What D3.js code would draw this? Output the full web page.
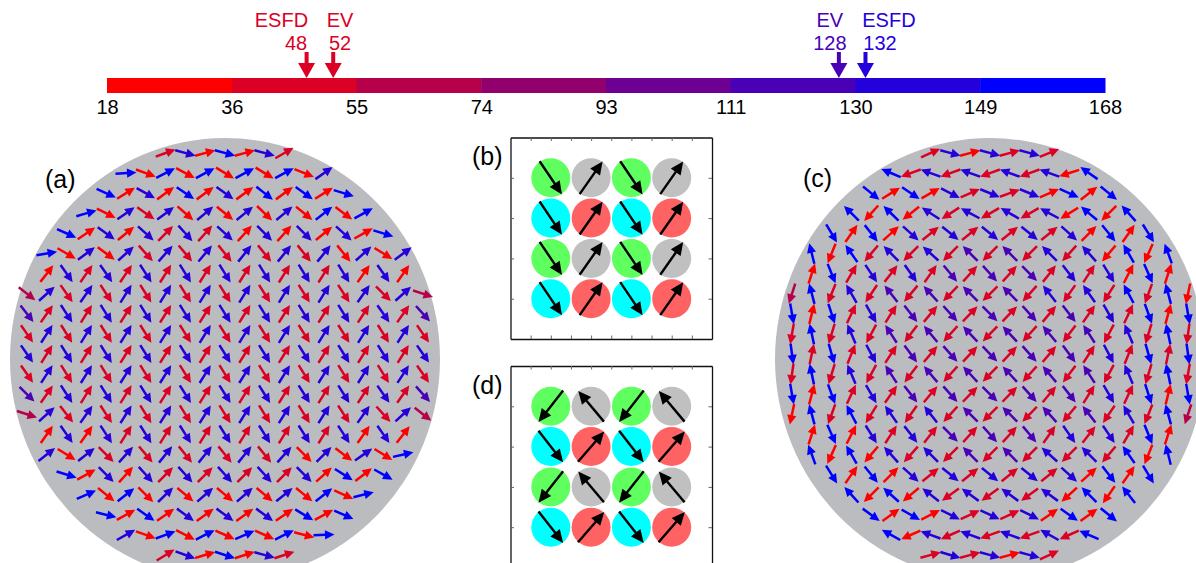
<!DOCTYPE html>
<html>
<head>
<meta charset="utf-8">
<script src="https://cdn.jsdelivr.net/npm/d3@7"></script>
<style>
  body { margin: 0; background: #fff; }
  svg { display: block; font-family: "Liberation Sans", Arial, sans-serif; }
</style>
</head>
<body>
<svg id="fig" width="1196" height="563"></svg>
<script>
// ---- colour scale (angle, degrees) ----
const binEdges = [18, 36.75, 55.5, 74.25, 93, 111.75, 130.5, 149.25, 168];
const tickLabels = ["18", "36", "55", "74", "93", "111", "130", "149", "168"];
const binColors = ["#ff0000", "#db0024", "#b60049", "#92006d", "#6d0092", "#4900b6", "#2400db", "#0000ff"];

// ---- marked values on the colour scale ----
const markerNames = ["ESFD", "EV", "EV", "ESFD"];
const markerValues = [48, 52, 128, 132];

// ---- spin texture (a): canting angle from the horizontal, per row (top to bottom) ----
const anglesA = [
  [20,15,15,15,15,15,30],
  [3,20,27,28,28,31,28,31,28,22,35],
  [24,32,29,36,34,36,36,36,38,36,36,32,17],
  [16,27,35,35,37,41,40,39,39,44,40,39,38,37,29],
  [24,34,36,39,42,45,48,48,42,48,45,48,45,39,42,29,17],
  [10,30,36,36,42,48,48,50,50,51,51,51,51,51,51,51,42,32,36],
  [52,55,55,55,56,57,58,58,58,58,58,58,58,58,58,58,55,55,55],
  [38,42,55,55,57,58,58,58,58,58,58,58,58,58,58,58,57,55,45,42,18],
  [52,55,57,58,58,58,58,58,58,58,58,58,58,58,58,58,58,57,55,55,48],
  [55,57,58,58,58,58,58,58,58,58,58,58,58,58,58,58,58,58,58,57,55],
  [55,58,58,58,58,58,58,58,58,58,58,58,58,58,58,58,58,58,58,58,55],
  [55,57,58,58,58,58,58,58,58,58,58,58,58,58,58,58,58,58,58,57,55],
  [45,55,57,58,58,58,58,58,58,58,58,58,58,58,58,58,58,57,55,55,48],
  [18,42,52,55,57,58,58,58,58,58,58,58,58,58,58,58,57,55,48,42,38],
  [55,55,55,57,58,58,58,58,58,58,58,58,58,58,58,57,55,55,52],
  [38,32,38,45,48,50,51,51,51,51,51,51,48,45,45,37,35,32,13],
  [17,29,45,48,48,45,48,45,48,45,48,45,45,42,32,38,29],
  [24,39,38,45,44,40,41,40,41,40,39,39,38,24,14],
  [14,29,35,35,36,36,36,36,36,35,31,29,24],
  [29,20,20,27,27,24,24,24,27,15,2],
  [32,20,17,18,18,15,18]
];
// colour bin (1..8) of every spin in (a)
const binsA = [
  "2718172",
  "81818181817",
  "8171817181818",
  "817271717171818",
  "81717272717171718",
  "8171727272727271717",
  "1727272727272727171",
  "372727272727272727273",
  "627272727272727272726",
  "272727272727272727272",
  "727272727272727272727",
  "272727272727272727272",
  "627272727272727272726",
  "372727272727272727273",
  "1717272727272727171",
  "7172727272727171718",
  "81717272727271818",
  "818171717171818",
  "8181717171818",
  "71818181818",
  "2718172"
];

// ---- spin texture (c) ----
const anglesC = [
  [24,15,15,15,15,15,22],
  [23,20,20,20,20,20,20,20,20,18,35],
  [39,32,34,30,27,24,22,20,22,24,24,38,39],
  [45,48,44,38,33,33,28,30,30,30,28,32,40,45,48],
  [59,55,52,42,42,39,39,39,39,39,39,39,42,45,51,55,58],
  [76,68,55,50,45,45,42,45,45,45,45,45,45,48,48,50,60,66,70],
  [72,68,60,56,52,55,55,50,48,48,48,45,52,52,57,58,63,66,72],
  [72,75,68,60,56,52,50,48,46,45,45,45,48,52,55,55,58,62,70,75,78],
  [80,76,72,65,60,58,52,50,48,46,45,46,48,50,52,55,60,65,70,75,80],
  [80,78,73,67,62,57,53,50,48,47,46,47,48,50,53,57,62,67,73,78,82],
  [82,78,74,68,62,57,53,50,48,47,46,47,48,50,53,57,62,68,74,78,82],
  [82,78,73,67,62,57,53,50,48,47,46,47,48,50,53,57,62,67,73,78,80],
  [80,75,70,65,60,55,52,50,48,46,45,46,48,50,52,58,60,65,72,76,80],
  [78,75,70,62,58,55,55,52,48,45,45,45,46,48,50,52,56,60,68,75,72],
  [72,66,63,58,57,52,52,45,48,48,48,50,55,55,52,56,60,68,72],
  [70,66,60,50,48,48,45,45,45,45,45,45,42,45,45,50,55,68,76],
  [58,55,51,45,42,39,39,39,39,39,39,39,42,42,52,55,59],
  [48,45,42,40,38,36,36,36,36,36,36,42,45,55,52],
  [36,36,29,27,27,25,25,25,27,35,35,36,39],
  [29,24,20,24,20,20,20,20,29,24,24],
  [15,17,15,15,15,15,25]
];
const binsC = [
  "2717272",
  "82727272718",
  "8181727271818",
  "818172727271818",
  "81817272727271818",
  "8182727262627271818",
  "1827272626262727181",
  "382726262626272728281",
  "818272626262626272818",
  "282726262626262627282",
  "828272626262626272828",
  "282726262626262627282",
  "818272626262626272818",
  "182827272626262627283",
  "1817272626262727281",
  "8181727262627272818",
  "81817272727271818",
  "818172727271818",
  "8181727271818",
  "81727272728",
  "2727172"
];

// sublattice signs: horizontal sense by row parity, vertical sense by column parity
const rowSenseA = [1, 1];
const rowSenseC = [1, -1];
const colSense = [-1, 1];

// ---- 4-sublattice insets (b) and (d) ----
const insetRows = [
  ["green", "gray", "green", "gray"],
  ["cyan", "red", "cyan", "red"],
  ["green", "gray", "green", "gray"],
  ["cyan", "red", "cyan", "red"]
];
const insetAnglesB = { green: -56, gray: 55, cyan: -56, red: 55 };
const insetAnglesD = { green: -128, gray: 130, cyan: -52, red: 49 };
const insetFill = { green: "#5fff5f", gray: "#c0c0c0", cyan: "#00ffff", red: "#ff6262" };

// =====================================================================
const svg = d3.select("#fig");
const FONT = "'Liberation Sans', Arial, sans-serif";

// ---------- colour bar ----------
const cbar = d3.scaleLinear().domain([18, 168]).range([107, 1105]);
const barTop = 78, barH = 15;
const binOf = v => Math.max(0, d3.bisectRight(binEdges, v) - 1);

svg.append("g").selectAll("rect")
  .data(binColors)
  .join("rect")
  .attr("x", (d, i) => cbar(binEdges[i]))
  .attr("y", barTop)
  .attr("width", (d, i) => cbar(binEdges[i + 1]) - cbar(binEdges[i]) + 0.5)
  .attr("height", barH)
  .attr("fill", d => d);

const cbAxis = d3.axisBottom(cbar)
  .tickValues(binEdges)
  .tickFormat((d, i) => tickLabels[i])
  .tickSize(0)
  .tickPadding(7);
const cbG = svg.append("g").attr("transform", `translate(0,${barTop + barH})`).call(cbAxis);
cbG.select(".domain").remove();
cbG.selectAll("text").attr("font-size", 20).attr("font-family", FONT).attr("fill", "#000");

// markers above the bar: name over value
const labelShift = [-10.6, 6.8, -9, 14.5];
const nameAlign = ["end", "middle", "middle", "start"];
const mk = svg.append("g");
markerValues.forEach((v, i) => {
  const x = cbar(v);
  const col = binColors[binOf(v)];
  const lx = x + labelShift[i];
  const g = mk.append("g").attr("fill", col);
  const num = g.append("text")
    .attr("x", lx).attr("y", 49.5)
    .attr("text-anchor", "middle")
    .attr("font-size", 20).attr("font-family", FONT)
    .text(v);
  const w = num.node().getComputedTextLength();
  const nx = nameAlign[i] === "end" ? lx + w / 2 + 1 : nameAlign[i] === "start" ? lx - w / 2 - 1 : lx;
  g.append("text")
    .attr("x", nx).attr("y", 26.5)
    .attr("text-anchor", nameAlign[i])
    .attr("font-size", 20).attr("font-family", FONT)
    .text(markerNames[i]);
  g.append("rect").attr("x", x - 2).attr("y", 52).attr("width", 4).attr("height", 13);
  g.append("path").attr("d", `M${x - 8.5},63 L${x + 8.5},63 L${x},${barTop} Z`);
});

// ---------- arrow helper ----------
function arrow(g, cx, cy, ang, len, headL, headW, width, color) {
  const a = ang * Math.PI / 180;
  const ux = Math.cos(a), uy = -Math.sin(a);
  const px = -uy, py = ux;
  const tx = cx - ux * len / 2, ty = cy - uy * len / 2;
  const hx = cx + ux * len / 2, hy = cy + uy * len / 2;
  const bx = hx - ux * headL, by = hy - uy * headL;
  g.append("line")
    .attr("x1", tx).attr("y1", ty).attr("x2", bx + ux * 0.5).attr("y2", by + uy * 0.5)
    .attr("stroke", color).attr("stroke-width", width);
  g.append("path")
    .attr("d", `M${hx},${hy} L${bx + px * headW},${by + py * headW} L${bx - px * headW},${by - py * headW} Z`)
    .attr("fill", color);
}

// ---------- spin discs ----------
function drawDisc(cfg) {
  const g = svg.append("g");
  g.append("ellipse")
    .attr("cx", cfg.cx).attr("cy", cfg.cy)
    .attr("rx", cfg.rx).attr("ry", cfg.ry)
    .attr("fill", "#bbbcc0");
  const xs = d3.scaleLinear().domain([-10, 10]).range([cfg.cx - 198, cfg.cx + 198]);
  const ys = d3.scaleLinear().domain([-10, 10]).range([cfg.gy - 201, cfg.gy + 201]);
  const half = (cfg.angles.length - 1) / 2;
  cfg.angles.forEach((row, i) => {
    const r = i - half;
    const m = (row.length - 1) / 2;
    row.forEach((mag, j) => {
      const c = j - m;
      const sx = cfg.rowSense[Math.abs(r) % 2];
      const sy = colSense[Math.abs(c) % 2];
      const dirDeg = Math.atan2(sy * Math.sin(mag * Math.PI / 180), sx * Math.cos(mag * Math.PI / 180)) * 180 / Math.PI;
      const color = binColors[+cfg.bins[i][j] - 1];
      arrow(g, xs(c), ys(r), dirDeg, 21, 9.5, 4.6, 2.5, color);
    });
  });
  g.append("text")
    .attr("x", cfg.labelX).attr("y", cfg.labelY)
    .attr("font-size", 25).attr("font-family", FONT)
    .text(cfg.label);
}

drawDisc({ cx: 225, cy: 359, rx: 215, ry: 221, gy: 354, angles: anglesA, bins: binsA,
  rowSense: rowSenseA, label: "(a)", labelX: 45, labelY: 188 });
drawDisc({ cx: 990, cy: 359, rx: 215, ry: 221, gy: 354, angles: anglesC, bins: binsC,
  rowSense: rowSenseC, label: "(c)", labelX: 803, labelY: 187 });

// ---------- insets ----------
function drawInset(cfg) {
  const g = svg.append("g");
  const xs = d3.scaleLinear().domain([-1, 4]).range([510.5, 712]);
  const ys = d3.scaleLinear().domain([-1, 4]).range([cfg.top, cfg.top + 201.5]);
  const ticksX = d3.range(-0.5, 3.51, 0.5);
  const ticksY = [0, 1, 2, 3];
  const ax = [
    { a: d3.axisTop(xs).tickValues(ticksX), t: `translate(0,${ys(-1)})` },
    { a: d3.axisBottom(xs).tickValues(ticksX), t: `translate(0,${ys(4)})` },
    { a: d3.axisLeft(ys).tickValues(ticksY), t: `translate(${xs(-1)},0)` },
    { a: d3.axisRight(ys).tickValues(ticksY), t: `translate(${xs(4)},0)` }
  ];
  ax.forEach(o => {
    const ag = g.append("g").attr("transform", o.t)
      .call(o.a.tickSizeInner(-3.5).tickSizeOuter(0).tickFormat(""));
    ag.select(".domain").attr("stroke", "#111").attr("stroke-width", 1.3);
    ag.selectAll(".tick line").attr("stroke", "#666");
  });
  insetRows.forEach((row, i) => {
    row.forEach((s, j) => {
      g.append("circle")
        .attr("cx", xs(j)).attr("cy", ys(i)).attr("r", 19.5)
        .attr("fill", insetFill[s]);
    });
  });
  insetRows.forEach((row, i) => {
    row.forEach((s, j) => {
      arrow(g, xs(j), ys(i), cfg.angles[s], 40, 13, 6, 2.4, "#000");
    });
  });
  g.append("text")
    .attr("x", 472).attr("y", cfg.labelY)
    .attr("font-size", 25).attr("font-family", FONT)
    .text(cfg.label);
}

drawInset({ top: 137.5, angles: insetAnglesB, label: "(b)", labelY: 165 });
drawInset({ top: 366, angles: insetAnglesD, label: "(d)", labelY: 394 });
</script>
</body>
</html>
